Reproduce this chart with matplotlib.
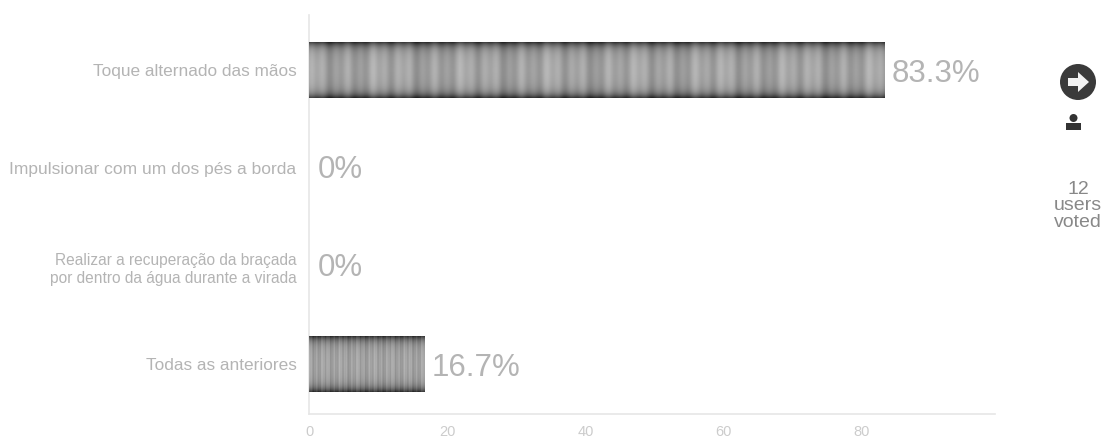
import numpy as np
import matplotlib
matplotlib.use("Agg")
import matplotlib.pyplot as plt
from matplotlib.patches import Circle, Polygon, Rectangle

categories = ["Toque alternado das mãos",
              "Impulsionar com um dos pés a borda",
              "Realizar a recuperação da braçada\npor dentro da água durante a virada",
              "Todas as anteriores"]
values = [83.3, 0, 0, 16.7]
labels = ["83.3%", "0%", "0%", "16.7%"]
ticks = [0, 20, 40, 60, 80]
tick_labels = ["0", "20", "40", "60", "80"]
votes = "12\nusers\nvoted"

W, H = 1105, 441
plt.rcParams['font.family'] = ['Liberation Sans', 'DejaVu Sans']
fig = plt.figure(figsize=(W / 100, H / 100), dpi=100, facecolor="white")

L, R, T, B = 309, 995, 15, 414
ax = fig.add_axes([L / W, 1 - B / H, (R - L) / W, (B - T) / H])
XMAX = (R - L) / 6.91
# y range chosen so that the four bands sit at 70, 168, 266, 364 px
YTOP, YBOT = (T - 70) / 98, (B - 70) / 98

# bar texture: dark along the top and bottom edges, soft vertical streaks
ny, nx = 56, 400
yy = np.abs(np.linspace(-1, 1, ny))[:, None]
xx = np.arange(nx)[None, :]
streak = (0.04 * np.sin(xx * 0.31) + 0.035 * np.sin(xx * 0.73 + 1)
          + 0.02 * np.sin(xx * 0.11 + 2))
tex = 0.64 - 0.34 * yy ** 6 - 0.08 * yy ** 2 + streak

size_by_cat = [12.4, 12.5, 11.2, 12.4]

for i, (v, lab) in enumerate(zip(values, labels)):
    bars = ax.barh(i, v, height=0.57, color="#888888", linewidth=0, zorder=2)
    if v > 0:
        im = ax.imshow(tex, cmap="gray", vmin=0, vmax=1, aspect="auto", zorder=3,
                       extent=(0, v, i + 0.285, i - 0.285), interpolation="bilinear")
        im.set_clip_path(bars[0])
    ax.text(v + (1.0 if v > 0 else 1.3), i + (0.04 if v > 0 else 0.025), lab,
            va="center", ha="left", fontsize=22.5, color="#b4b4b4", zorder=4)
ax.set_xlim(0, XMAX)
ax.set_ylim(YBOT, YTOP)

for s in ("top", "right"):
    ax.spines[s].set_visible(False)
for s in ("left", "bottom"):
    ax.spines[s].set_color("#e6e6e6")
    ax.spines[s].set_linewidth(1.2)

ax.set_yticks(range(len(categories)))
ax.set_yticklabels(categories, color="#b4b4b4", linespacing=1.3)
for t, fs in zip(ax.get_yticklabels(), size_by_cat):
    t.set_fontsize(fs)
ax.set_xticks(ticks)
ax.set_xticklabels(tick_labels, fontsize=10.5, color="#cccccc")
ax.tick_params(axis="both", length=0)
ax.tick_params(axis="y", pad=9)
ax.tick_params(axis="x", pad=8)

ov = fig.add_axes([0, 0, 1, 1], facecolor="none")
ov.set_xlim(0, W)
ov.set_ylim(H, 0)
ov.axis("off")
ov.add_patch(Circle((1078, 82), 18, color="#3a3a3a", lw=0))
ov.add_patch(Polygon([(1068, 78), (1078, 78), (1078, 72), (1089, 82),
                      (1078, 92), (1078, 86), (1068, 86)], color="#f2f2f2", lw=0))
ov.add_patch(Circle((1073.5, 118), 4, color="#333333", lw=0))
ov.add_patch(Rectangle((1066, 123), 15, 7, color="#333333", lw=0))
ov.text(1078, 206, votes, ha="center", va="center", fontsize=14,
        color="#888888", linespacing=0.98)

fig.savefig("out.png", dpi=100)
